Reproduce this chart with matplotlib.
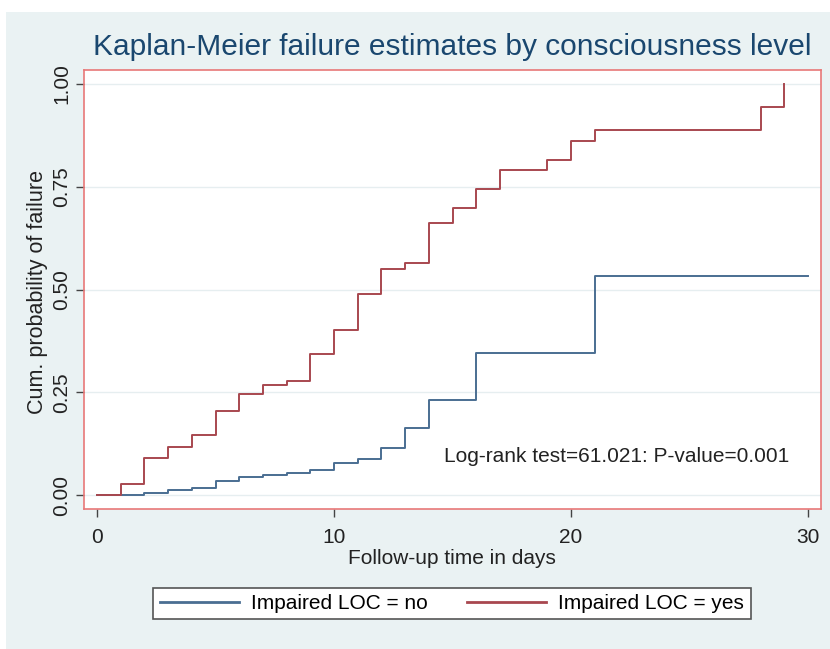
import matplotlib.pyplot as plt
from matplotlib.patches import Rectangle

plt.rcParams['font.family'] = ['Liberation Sans', 'DejaVu Sans']

# Kaplan-Meier failure estimates
days_no = [0, 2, 3, 4, 5, 6, 7, 8, 9, 10, 11, 12, 13, 14, 16, 21, 30]
fail_no = [0, 0.006, 0.012, 0.017, 0.034, 0.044, 0.049, 0.054, 0.061,
           0.077, 0.088, 0.114, 0.164, 0.231, 0.346, 0.533, 0.533]

days_yes = [0, 1, 2, 3, 4, 5, 6, 7, 8, 9, 10, 11, 12, 13, 14, 15, 16, 17,
            19, 20, 21, 28, 29]
fail_yes = [0, 0.026, 0.089, 0.116, 0.145, 0.205, 0.246, 0.267, 0.277,
            0.342, 0.401, 0.489, 0.549, 0.565, 0.661, 0.698, 0.745, 0.791,
            0.814, 0.861, 0.888, 0.943, 1.0]

xticks = [0, 10, 20, 30]
yticks = [0, 0.25, 0.5, 0.75, 1.0]
ytick_labels = ["0.00", "0.25", "0.50", "0.75", "1.00"]

W, H = 830, 649
bg = "#EAF2F3"
blue = "#4A6E92"
red = "#A8474F"
txt = "#222222"

fig = plt.figure(figsize=(W / 100, H / 100), dpi=100, facecolor="white")
fig.patches.append(Rectangle((6 / W, 0), 1, (H - 12) / H,
                             transform=fig.transFigure, facecolor=bg,
                             edgecolor="none", zorder=-10))

ax = fig.add_axes([84 / W, 1 - 509 / H, (821 - 84) / W, (509 - 70) / H])
ax.set_facecolor("white")

ax.step(days_no, fail_no, where="post", color=blue, lw=1.4,
        label="Impaired LOC = no")
ax.step(days_yes, fail_yes, where="post", color=red, lw=1.4,
        label="Impaired LOC = yes")

ax.set_xlim(-0.55, 30.55)
ax.set_ylim(-0.034, 1.034)
ax.set_xticks(xticks)
ax.set_yticks(yticks)
ax.set_yticklabels(ytick_labels, rotation=90, va="center")
ax.tick_params(axis="both", labelsize=15, color="#444444", length=6,
               width=1, labelcolor=txt)
ax.tick_params(axis="x", pad=8)
ax.tick_params(axis="y", pad=3)

ax.grid(axis="y", color="#E6EEF0", lw=1)
ax.set_axisbelow(True)
for sp in ax.spines.values():
    sp.set_color("#E87878")
    sp.set_linewidth(1.2)

ax.text(0.957, 0.12, "Log-rank test=61.021: P-value=0.001",
        transform=ax.transAxes, ha="right", va="center", fontsize=15,
        color=txt)

fig.text(452 / W, 1 - 47 / H,
         "Kaplan-Meier failure estimates by consciousness level",
         ha="center", va="center", fontsize=21.5, color="#1A476F")
fig.text(452 / W, 1 - 558 / H, "Follow-up time in days", ha="center",
         va="center", fontsize=15, color=txt)
fig.text(37 / W, 1 - 292 / H, "Cum. probability of failure", ha="center",
         va="center", rotation=90, fontsize=15.5, color=txt)

leg = ax.legend(loc="center", ncol=2, mode="expand",
                bbox_to_anchor=(143 / W, 1 - 624 / H, (761 - 143) / W, 41 / H),
                bbox_transform=fig.transFigure, fontsize=15,
                handlelength=3.8, frameon=True, fancybox=False,
                edgecolor="#555555", framealpha=1, borderpad=0.3,
                columnspacing=1.6, handletextpad=0.6)
leg.get_frame().set_linewidth(1.2)
for line in leg.get_lines():
    line.set_linewidth(2)

fig.savefig("out.png", dpi=100, facecolor="white")
